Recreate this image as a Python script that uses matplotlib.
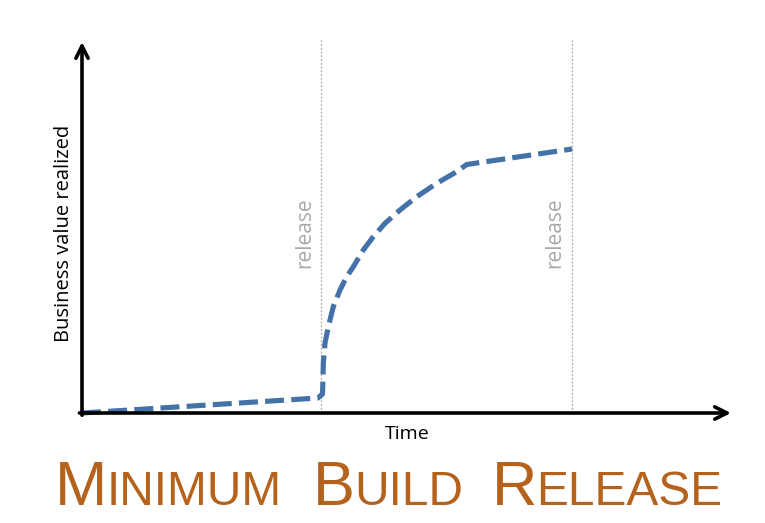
import matplotlib
matplotlib.use("Agg")
import matplotlib.pyplot as plt

# ---- data (time units 0-100, value units 0-100) ----
time_pts = [0, 36.42, 37.11, 37.15, 37.24, 37.50, 38.01, 38.78, 39.81, 40.85, 41.87, 43.41,
            44.95, 46.76, 49.07, 51.65, 54.74, 57.82, 59.37, 75.62]
value_pts = [0, 4.04, 5.12, 7.09, 13.48, 18.87, 23.26, 28.65, 33.15, 36.74, 39.43, 43.94,
             47.52, 51.13, 54.72, 58.30, 61.91, 65.04, 66.98, 71.16]
release_times = [36.9, 75.6]
release_label = "release"
x_label = "Time"
y_label = "Business value realized"
title_words = [("M", "INIMUM"), ("B", "UILD"), ("R", "ELEASE")]

title_font = 'Liberation Sans'
label_font = 'Open Sans'

W, H = 765, 523
fig = plt.figure(figsize=(W / 100, H / 100), dpi=100)
ax = fig.add_axes([82 / W, (H - 413) / H, (731 - 82) / W, (413 - 42) / H])
ax.set_xlim(0, 100.15)
ax.set_ylim(0, 100)
ax.axis('off')

blue = '#4372a8'
ax.plot(time_pts, value_pts, color=blue, lw=3.7, dashes=(3.7, 1.4),
        dash_capstyle='butt', solid_joinstyle='round', zorder=3, clip_on=False)

for rt in release_times:
    ax.plot([rt, rt], [0, 101], color='#aaaaaa', lw=0.9, ls=(0, (1.5, 1.5)), clip_on=False, zorder=1)
    ax.text(rt - 2.6, 48.5, release_label, rotation=90, ha='center', va='center',
            color='#a8a8a8', fontsize=15, family=label_font)

# axes arrows
arrow = dict(arrowstyle='->', lw=2.6, color='black', mutation_scale=22, shrinkA=0, shrinkB=0)
ax.annotate('', xy=(1, 0), xytext=(-0.004, 0), xycoords='axes fraction', arrowprops=arrow)
ax.annotate('', xy=(0, 1), xytext=(0, -0.006), xycoords='axes fraction', arrowprops=arrow)

fig.text(407.5 / W, 1 - 434 / H, x_label, ha='center', va='center', fontsize=14, family=label_font)
fig.text(64 / W, 1 - 233 / H, y_label, ha='center', va='center', rotation=90, fontsize=14.5,
         family=label_font)

# small-caps title
orange = '#b5621c'
big, small = 45.3, 34.5
word_starts = [55, 313, 492]
fig.canvas.draw()
r = fig.canvas.get_renderer()
for (cap, rest), x0 in zip(title_words, word_starts):
    t = fig.text(x0 / W, 1 - 505 / H, cap, fontsize=big, color=orange,
                 family=title_font, va='baseline', ha='left')
    bb = t.get_window_extent(r)
    fig.text((x0 + bb.width - 1) / W, 1 - 505 / H, rest, fontsize=small, color=orange,
             family=title_font, va='baseline', ha='left')

fig.savefig('out.png', dpi=100)
